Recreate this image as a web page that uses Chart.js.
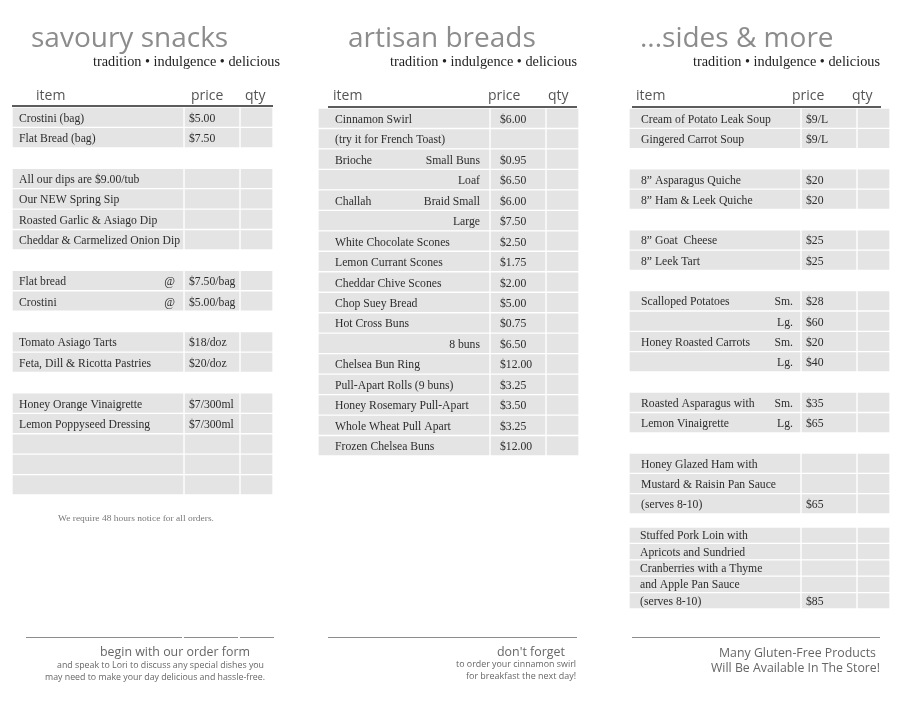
<!DOCTYPE html>
<html>
<head>
<meta charset="utf-8">
<script src="https://cdn.jsdelivr.net/npm/chart.js@4.4.1/dist/chart.umd.min.js"></script>
<style>
  html, body { margin: 0; padding: 0; background: #fff; }
  #page { position: relative; width: 900px; height: 705px; overflow: hidden; }
  canvas { position: absolute; }
  svg { position: absolute; left: 0; top: 0; }
  .title { font-family: 'Open Sans'; font-size: 28px; fill: #8c8c8c; }
  .tag { font-family: 'Liberation Serif'; font-size: 14px; fill: #222; }
  .head { font-family: 'Open Sans'; font-size: 14px; fill: #555; }
  .foot { font-family: 'Open Sans'; fill: #666; }
</style>
</head>
<body>
<div id="page">
  <canvas id="snacks" width="261" height="388" style="left:12px;top:107px"></canvas>
  <canvas id="breads" width="261" height="348" style="left:318px;top:108px"></canvas>
  <canvas id="sides" width="261" height="406" style="left:629px;top:108px"></canvas>
  <canvas id="pork" width="261" height="82" style="left:629px;top:527px"></canvas>

  <svg width="900" height="705">
    <!-- titles -->
    <text class="title" x="31" y="47">savoury snacks</text>
    <text class="title" x="348" y="47">artisan breads</text>
    <text class="title" x="640" y="47">...sides &amp; more</text>
    <text class="tag" x="280" y="66" text-anchor="end" textLength="187" lengthAdjust="spacingAndGlyphs">tradition • indulgence • delicious</text>
    <text class="tag" x="577" y="66" text-anchor="end" textLength="187" lengthAdjust="spacingAndGlyphs">tradition • indulgence • delicious</text>
    <text class="tag" x="880" y="66" text-anchor="end" textLength="187" lengthAdjust="spacingAndGlyphs">tradition • indulgence • delicious</text>

    <!-- column heads -->
    <text class="head" x="36" y="100">item</text>
    <text class="head" x="191" y="100">price</text>
    <text class="head" x="245" y="100">qty</text>
    <text class="head" x="333" y="100">item</text>
    <text class="head" x="488" y="100">price</text>
    <text class="head" x="548" y="100">qty</text>
    <text class="head" x="636" y="100">item</text>
    <text class="head" x="792" y="100">price</text>
    <text class="head" x="852" y="100">qty</text>
    <line x1="12" x2="273" y1="106" y2="106" stroke="#5c5c5c" stroke-width="2"/>
    <line x1="328" x2="577" y1="107" y2="107" stroke="#5c5c5c" stroke-width="2"/>
    <line x1="632" x2="881" y1="107" y2="107" stroke="#5c5c5c" stroke-width="2"/>

    <text x="58" y="521" font-family="Liberation Serif" font-size="9" fill="#777" textLength="156" lengthAdjust="spacingAndGlyphs">We require 48 hours notice for all orders.</text>

    <!-- footers -->
    <g stroke="#8c8c8c" stroke-width="1">
      <line x1="26" x2="182" y1="637.5" y2="637.5"/>
      <line x1="184" x2="238" y1="637.5" y2="637.5"/>
      <line x1="240" x2="274" y1="637.5" y2="637.5"/>
      <line x1="328" x2="577" y1="637.5" y2="637.5"/>
      <line x1="632" x2="880" y1="637.5" y2="637.5"/>
    </g>
    <text class="foot" font-size="12" x="250" y="656" text-anchor="end" textLength="150" lengthAdjust="spacingAndGlyphs">begin with our order form</text>
    <text class="foot" font-size="8.8" x="264" y="668" text-anchor="end" textLength="207" lengthAdjust="spacingAndGlyphs">and speak to Lori to discuss any special dishes you</text>
    <text class="foot" font-size="8.8" x="265" y="680" text-anchor="end" textLength="220" lengthAdjust="spacingAndGlyphs">may need to make your day delicious and hassle-free.</text>
    <text class="foot" font-size="12" x="565" y="656" text-anchor="end" textLength="68" lengthAdjust="spacingAndGlyphs">don't forget</text>
    <text class="foot" font-size="8.8" x="576" y="667" text-anchor="end" textLength="120" lengthAdjust="spacingAndGlyphs">to order your cinnamon swirl</text>
    <text class="foot" font-size="8.8" x="576" y="679" text-anchor="end" textLength="110" lengthAdjust="spacingAndGlyphs">for breakfast the next day!</text>
    <text class="foot" font-size="12.5" x="876" y="657" text-anchor="end" textLength="157" lengthAdjust="spacingAndGlyphs">Many Gluten-Free Products</text>
    <text class="foot" font-size="12.5" x="880" y="672" text-anchor="end" textLength="169" lengthAdjust="spacingAndGlyphs">Will Be Available In The Store!</text>
  </svg>
</div>

<script>
// rows: null = blank spacer row, '' = empty grey cell
var SNACK_ITEMS = ['Crostini (bag)', 'Flat Bread (bag)', null,
  'All our dips are $9.00/tub', 'Our NEW Spring Sip', 'Roasted Garlic & Asiago Dip', 'Cheddar & Carmelized Onion Dip', null,
  'Flat bread', 'Crostini', null,
  'Tomato Asiago Tarts', 'Feta, Dill & Ricotta Pastries', null,
  'Honey Orange Vinaigrette', 'Lemon Poppyseed Dressing', '', '', ''];
var SNACK_NOTES = ['', '', null, '', '', '', '', null, '@', '@', null, '', '', null, '', '', '', '', ''];
var SNACK_PRICES = ['$5.00', '$7.50', null, '', '', '', '', null, '$7.50/bag', '$5.00/bag', null,
  '$18/doz', '$20/doz', null, '$7/300ml', '$7/300ml', '', '', ''];

var BREAD_ITEMS = ['Cinnamon Swirl', '(try it for French Toast)', 'Brioche', '', 'Challah', '',
  'White Chocolate Scones', 'Lemon Currant Scones', 'Cheddar Chive Scones', 'Chop Suey Bread',
  'Hot Cross Buns', '', 'Chelsea Bun Ring', 'Pull-Apart Rolls (9 buns)', 'Honey Rosemary Pull-Apart',
  'Whole Wheat Pull Apart', 'Frozen Chelsea Buns'];
var BREAD_NOTES = ['', '', 'Small Buns', 'Loaf', 'Braid Small', 'Large', '', '', '', '', '', '8 buns', '', '', '', '', ''];
var BREAD_PRICES = ['$6.00', '', '$0.95', '$6.50', '$6.00', '$7.50', '$2.50', '$1.75', '$2.00', '$5.00',
  '$0.75', '$6.50', '$12.00', '$3.25', '$3.50', '$3.25', '$12.00'];

var SIDE_ITEMS = ['Cream of Potato Leak Soup', 'Gingered Carrot Soup', null,
  '8\u201D Asparagus Quiche', '8\u201D Ham & Leek Quiche', null,
  '8\u201D Goat  Cheese', '8\u201D Leek Tart', null,
  'Scalloped Potatoes', '', 'Honey Roasted Carrots', '', null,
  'Roasted Asparagus with', 'Lemon Vinaigrette', null,
  'Honey Glazed Ham with', 'Mustard & Raisin Pan Sauce', '(serves 8-10)'];
var SIDE_NOTES = ['', '', null, '', '', null, '', '', null, 'Sm.', 'Lg.', 'Sm.', 'Lg.', null, 'Sm.', 'Lg.', null, '', '', ''];
var SIDE_PRICES = ['$9/L', '$9/L', null, '$20', '$20', null, '$25', '$25', null,
  '$28', '$60', '$20', '$40', null, '$35', '$65', null, '', '', '$65'];

var PORK_ITEMS = ['Stuffed Pork Loin with', 'Apricots and Sundried', 'Cranberries with a Thyme',
  'and Apple Pan Sauce', '(serves 8-10)'];
var PORK_NOTES = ['', '', '', '', ''];
var PORK_PRICES = ['', '', '', '', '$85'];

// item | price | qty edges, same for every table
var COLS = [[0, 172], [172, 228], [228, 261]];
var CELL = '#e4e4e4';
var ROW_FONT = '11.7px "Liberation Serif"';

function tableChart(id, items, notes, prices, pad) {
  var datasets = COLS.map(function (edge) {
    return {
      data: items.map(function (it) { return it === null ? null : edge; }),
      backgroundColor: CELL, borderColor: '#fff', borderWidth: 1, borderSkipped: false,
      barPercentage: 1, categoryPercentage: 1, grouped: false
    };
  });
  var cellText = {
    id: 'cellText',
    afterDatasetsDraw: function (chart) {
      var ctx = chart.ctx, x = chart.scales.x, y = chart.scales.y;
      ctx.save();
      ctx.font = ROW_FONT; ctx.fillStyle = '#2e2e2e'; ctx.textBaseline = 'alphabetic';
      items.forEach(function (it, i) {
        var yy = y.getPixelForValue(i) + pad.dy;
        if (it) { ctx.textAlign = 'left'; ctx.fillText(it, x.getPixelForValue(pad.item), yy); }
        if (notes[i]) { ctx.textAlign = 'right'; ctx.fillText(notes[i], x.getPixelForValue(pad.note), yy); }
        if (prices[i]) { ctx.textAlign = 'left'; ctx.fillText(prices[i], x.getPixelForValue(pad.price), yy); }
      });
      ctx.restore();
    }
  };
  return new Chart(document.getElementById(id), {
    type: 'bar',
    data: { labels: items.map(function (_, i) { return String(i); }), datasets: datasets },
    options: {
      indexAxis: 'y', responsive: false, animation: false, devicePixelRatio: 1,
      layout: { padding: 0 },
      plugins: { legend: { display: false }, tooltip: { enabled: false } },
      scales: {
        x: { type: 'linear', min: 0, max: 261, display: false },
        y: { display: false }
      }
    },
    plugins: [cellText]
  });
}

tableChart('snacks', SNACK_ITEMS, SNACK_NOTES, SNACK_PRICES, { item: 7, note: 163, price: 177, dy: 4.5 });
tableChart('breads', BREAD_ITEMS, BREAD_NOTES, BREAD_PRICES, { item: 17, note: 162, price: 182, dy: 4.5 });
tableChart('sides', SIDE_ITEMS, SIDE_NOTES, SIDE_PRICES, { item: 12, note: 164, price: 177, dy: 4.5 });
tableChart('pork', PORK_ITEMS, PORK_NOTES, PORK_PRICES, { item: 11, note: 164, price: 177, dy: 4 });
</script>
</body>
</html>
